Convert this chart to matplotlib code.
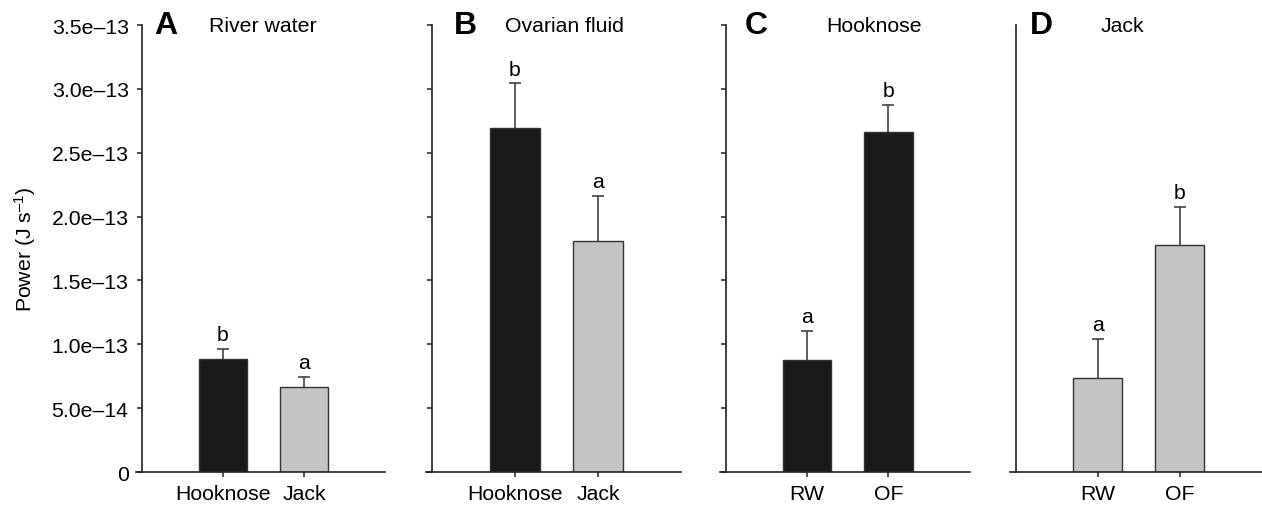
import matplotlib
matplotlib.use('Agg')
import matplotlib.pyplot as plt

plt.rcParams['font.family'] = ['Liberation Sans', 'DejaVu Sans']
plt.rcParams['mathtext.fontset'] = 'custom'
plt.rcParams['mathtext.rm'] = 'Liberation Sans'

# data (J s^-1)
letters = ['A', 'B', 'C', 'D']
titles = ['River water', 'Ovarian fluid', 'Hooknose', 'Jack']
groups = [['Hooknose', 'Jack'], ['Hooknose', 'Jack'], ['RW', 'OF'], ['RW', 'OF']]
means = [[0.887e-13, 0.668e-13],
         [2.691e-13, 1.806e-13],
         [0.879e-13, 2.660e-13],
         [0.736e-13, 1.780e-13]]
errs = [[0.078e-13, 0.078e-13],
        [0.355e-13, 0.358e-13],
        [0.227e-13, 0.216e-13],
        [0.308e-13, 0.297e-13]]
sig = [['b', 'a'], ['b', 'a'], ['a', 'b'], ['a', 'b']]
colours = [['#1a1a1a', '#c4c4c4'], ['#1a1a1a', '#c4c4c4'],
           ['#1a1a1a', '#1a1a1a'], ['#c4c4c4', '#c4c4c4']]

yticks = [0, 0.5e-13, 1.0e-13, 1.5e-13, 2.0e-13, 2.5e-13, 3.0e-13, 3.5e-13]
yticklabels = ['0', '5.0e\u201314', '1.0e\u201313', '1.5e\u201313', '2.0e\u201313',
               '2.5e\u201313', '3.0e\u201313', '3.5e\u201313']

fs = 15.3
fig = plt.figure(figsize=(12.62, 5.06), dpi=100)
lefts = [0.1125, 0.3423, 0.575, 0.8048]
widths = [0.1926, 0.1973, 0.1934, 0.195]
letter_x = [0.05, 0.088, 0.078, 0.057]
title_x = [0.498, 0.53, 0.61, 0.435]

for i in range(4):
    ax = fig.add_axes([lefts[i], 0.0652, widths[i], 0.8834])
    x = [0, 1]
    ax.bar(x, means[i], width=0.6, color=colours[i], edgecolor='#333333',
           linewidth=1.0, zorder=2)
    # symmetric bars drawn behind the opaque bars -> only upper half shows
    ax.errorbar(x, means[i], yerr=errs[i], fmt='none',
                ecolor='#333333', elinewidth=1.1, capsize=4, capthick=1.1, zorder=1)
    for j in range(2):
        ax.annotate(sig[i][j], xy=(x[j], means[i][j] + errs[i][j]),
                    xytext=(0, 6), textcoords='offset points',
                    ha='center', va='baseline', fontsize=fs)
    ax.set_xlim(-1, 2)
    ax.set_ylim(0, 3.5e-13)
    ax.set_xticks(x)
    ax.set_xticklabels(groups[i], fontsize=fs)
    for s in ['top', 'right']:
        ax.spines[s].set_visible(False)
    for s in ['left', 'bottom']:
        ax.spines[s].set_linewidth(1.2)
        ax.spines[s].set_color('#222222')
    ax.spines['bottom'].set_bounds(-1.07, 2)
    ax.tick_params(direction='out', length=3.6, width=1.1, color='#222222')
    ax.tick_params(axis='x', pad=5)
    ax.tick_params(axis='y', pad=6)
    if i == 0:
        ax.set_yticks(yticks)
        ax.set_yticklabels(yticklabels, fontsize=fs)
        ax.set_ylabel('Power (J s$\\mathregular{^{\u20131}}$)', fontsize=fs, labelpad=10)
    elif i < 3:
        ax.set_yticks(yticks)
        ax.set_yticklabels([])
    else:
        ax.set_yticks([])
    ax.text(letter_x[i], 1.0, letters[i], transform=ax.transAxes, fontsize=23,
            fontweight='bold', ha='left', va='center')
    ax.text(title_x[i], 1.0, titles[i], transform=ax.transAxes, fontsize=fs,
            ha='center', va='center')

fig.savefig('out.png', dpi=100)
